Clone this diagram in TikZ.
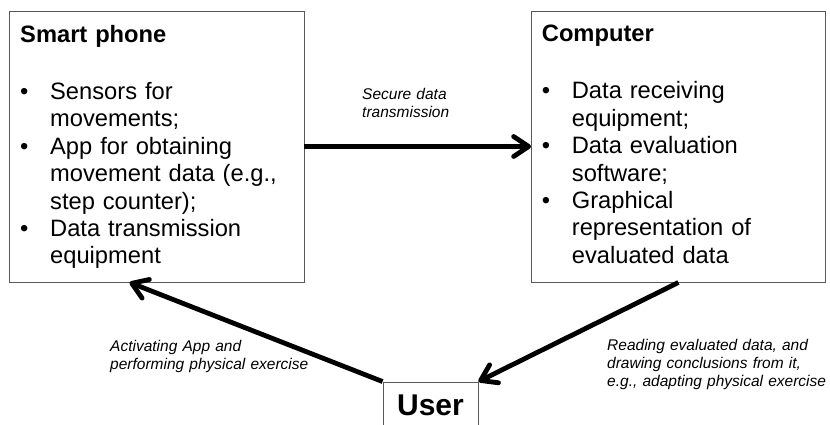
\documentclass[tikz,border=0pt]{standalone}
\usepackage{fontspec}
\setmainfont{Liberation Sans}
\usetikzlibrary{arrows.meta}
\begin{document}
\begin{tikzpicture}[x=1pt,y=-1pt,
  box/.style={draw=black!65, line width=0.9pt, rectangle, inner sep=0pt},
  body/.style={anchor=north west, inner sep=0pt, align=left, text width=285pt,
    font=\fontsize{23.7}{27.4}\selectfont},
  lbl/.style={anchor=north west, inner sep=0pt, align=left, text width=220pt,
    font=\fontsize{15.5}{18}\selectfont\itshape},
  conn/.style={line width=4.8pt, -{Straight Barb[length=15pt,width=20pt,round]}}
]
\clip (0,0) rectangle (830,425);

\node[box, minimum width=295pt, minimum height=271pt] (phone) at (156.5,146.5) {};
\node[box, minimum width=293.5pt, minimum height=271pt] (comp) at (678.25,146.5) {};
\node[box, minimum width=95pt, minimum height=46pt, font=\fontsize{30}{36}\selectfont\bfseries] (user) at (430.5,405) {User};

\node[body] (phonetext) at (20,25) {\textbf{Smart phone}\\[29.8pt]
\makebox[30pt][l]{\textbullet}Sensors for\\
\hspace*{30pt}movements;\\
\makebox[30pt][l]{\textbullet}App for obtaining\\
\hspace*{30pt}movement data (e.g.,\\
\hspace*{30pt}step counter);\\
\makebox[30pt][l]{\textbullet}Data transmission\\
\hspace*{30pt}equipment};

\node[body] (comptext) at (541.7,25) {\textbf{Computer}\\[29.8pt]
\makebox[30pt][l]{\textbullet}Data receiving\\
\hspace*{30pt}equipment;\\
\makebox[30pt][l]{\textbullet}Data evaluation\\
\hspace*{30pt}software;\\
\makebox[30pt][l]{\textbullet}Graphical\\
\hspace*{30pt}representation of\\
\hspace*{30pt}evaluated data};

\draw[conn] (phone.east) -- (comp.west);
\draw[conn] (user.north west) -- ([xshift=121pt]phone.south west);
\draw[conn] ([xshift=-147pt]comp.south east) -- (user.north east);

\node[lbl] (lsecure) at (362,88) {Secure data\\transmission};
\node[lbl] (lactive) at (110,340) {Activating App and\\performing physical exercise};
\node[lbl] (lread) at (607,339) {Reading evaluated data, and\\drawing conclusions from it,\\e.g., adapting physical exercise};
\end{tikzpicture}
\end{document}
